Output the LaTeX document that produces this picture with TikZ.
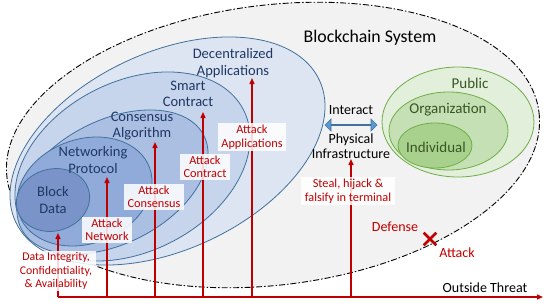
\documentclass[tikz,border=0pt]{standalone}
\usepackage{fontspec}
\setmainfont{Carlito}
\usetikzlibrary{arrows.meta,shapes.arrows,shapes.misc}

\definecolor{systemgray}{HTML}{F2F2F2}
\definecolor{layerline}{HTML}{41719C}
\definecolor{navy}{HTML}{1F3864}
\definecolor{blueA}{HTML}{DDE5F3}
\definecolor{blueB}{HTML}{C6D4EC}
\definecolor{blueC}{HTML}{ABBFE3}
\definecolor{blueD}{HTML}{90AADA}
\definecolor{blueE}{HTML}{7A94C9}
\definecolor{leafline}{HTML}{70AD47}
\definecolor{leaf}{HTML}{375623}
\definecolor{greenA}{HTML}{E2EFDA}
\definecolor{greenB}{HTML}{C5E0B4}
\definecolor{greenC}{HTML}{A9D18E}
\definecolor{threatred}{HTML}{C00000}
\definecolor{arrowblue}{HTML}{5B9BD5}

\begin{document}
\begin{tikzpicture}[x=1pt, y=-1pt,
    layer/.style={draw=layerline, line width=0.8pt},
    group/.style={draw=leafline, line width=0.8pt},
    layertext/.style={text=navy, align=center, font=\fontsize{14.5}{16.5}\selectfont},
    grouptext/.style={text=leaf, font=\fontsize{15}{17}\selectfont},
    plaintext/.style={align=center, font=\fontsize{14}{15.5}\selectfont},
    attackbox/.style={fill=white, fill opacity=0.85, text opacity=1, text=threatred,
        align=center, inner xsep=3.5pt, inner ysep=1.5pt, font=\fontsize{12.3}{13.5}\selectfont},
    threat/.style={draw=threatred, line width=1.4pt},
    hit/.style={threat, -{Triangle[length=6pt, width=5pt]}}]
    \useasboundingbox (0,0) rectangle (550,308);

    % Blockchain system
    \draw[fill=systemgray, line width=0.9pt, dash pattern=on 6pt off 2pt on 1.5pt off 2pt,
        rotate around={7:(273,145)}] (273,145) ellipse [x radius=268, y radius=140];
    \node (system) [font=\fontsize{17.8}{20}\selectfont] at (370,38) {Blockchain System};

    % Layers
    \draw[layer, fill=blueA, rotate around={25:(167.5,151)}] (167.5,151) ellipse [x radius=167.6, y radius=98.6];
    \draw[layer, fill=blueB, rotate around={27:(132.5,166.5)}] (132.5,166.5) ellipse [x radius=124.6, y radius=85];
    \draw[layer, fill=blueC, rotate around={27:(112.5,182)}] (112.5,182) ellipse [x radius=102.5, y radius=61.7];
    \draw[layer, fill=blueD, rotate around={20:(84.5,191.5)}] (84.5,191.5) ellipse [x radius=69.3, y radius=52.2];
    \draw[layer, fill=blueE, rotate around={15:(53,200)}] (53,200) ellipse [x radius=37, y radius=31];

    \node (apps) [layertext] at (233,63) {Decentralized\\Applications};
    \node (contract) [layertext] at (188,94) {Smart\\Contract};
    \node (consensus) [layertext] at (142,126) {Consensus\\Algorithm};
    \node (network) [layertext] at (93,160) {Networking\\Protocol};
    \node (data) [layertext] at (53,200) {Block\\Data};

    % Public / organization / individual
    \draw[group, fill=greenA] (458,122) ellipse [x radius=76, y radius=55];
    \draw[group, fill=greenB] (448.5,131) ellipse [x radius=59.5, y radius=39];
    \draw[group, fill=greenC] (435,145.5) ellipse [x radius=37, y radius=22.5];
    \node (public) [grouptext] at (470,83) {Public};
    \node (org) [grouptext] at (448,110) {Organization};
    \node (person) [grouptext] at (436,147) {Individual};

    % Interact
    \node (interact) [plaintext] at (351,110) {Interact};
    \node (link) [double arrow, draw=layerline, fill=arrowblue, line width=0.6pt,
        minimum height=52pt, minimum width=12pt, inner sep=0pt,
        double arrow head extend=3pt, double arrow head indent=0pt] at (351,125) {};
    \node (infra) [plaintext] at (351,146) {Physical\\Infrastructure};

    % Threat lines
    \coordinate (start) at (58,297);
    \coordinate (end) at (543,297);
    \draw[hit] (start) -- (end);
    \foreach \name/\x/\y in {t1/58/233, t2/107/177, t3/155/142, t4/203/112, t5/252/78, t6/351/159} {
        \coordinate (\name) at (\x,\y);
        \coordinate (\name base) at (\x,297);
        \draw[hit] (\name base) -- (\name);
    }

    % Attack labels
    \node (atkapp) [attackbox] at (252,137) {Attack\\Applications};
    \node (atkcon) [attackbox] at (205,167) {Attack\\Contract};
    \node (atkcons) [attackbox] at (154,197) {Attack\\Consensus};
    \node (atknet) [attackbox] at (107,230) {Attack\\Network};
    \node (atkdata) [attackbox, font=\fontsize{11.8}{13.5}\selectfont] at (56,271)
        {Data Integrity,\\Confidentiality,\\\& Availability};
    \node (steal) [attackbox] at (348,191) {Steal, hijack \&\\falsify in terminal};

    % Defense / attack
    \node (defense) [text=threatred, font=\fontsize{14}{16}\selectfont] at (395,227) {Defense};
    \node (cross) [cross out, draw=threatred, line width=2.6pt, minimum size=10pt, inner sep=0pt] at (430,239) {};
    \node (attack) [text=threatred, font=\fontsize{14}{16}\selectfont] at (457,253) {Attack};
    \node (outside) [font=\fontsize{14}{16}\selectfont] at (485,288) {Outside Threat};
\end{tikzpicture}
\end{document}
